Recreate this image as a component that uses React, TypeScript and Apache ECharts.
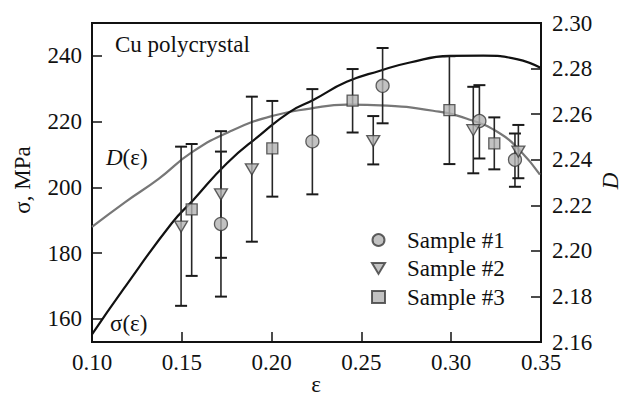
import React, { useEffect, useRef } from "react";
import * as echarts from "echarts";

// ---- data ----
const xTicks = [0.1, 0.15, 0.2, 0.25, 0.3, 0.35];
const sigmaTicks = [160, 180, 200, 220, 240];

// fitted sigma(eps) curve (left axis)
const sigmaCurveEps = [0.1, 0.1174, 0.1444, 0.1564, 0.175, 0.1935, 0.2102, 0.2232, 0.2418, 0.2604, 0.277, 0.2993, 0.3179, 0.3365, 0.35];
const sigmaCurveVal = [155.3, 169.0, 189.1, 196.2, 207.3, 215.9, 223.0, 226.6, 232.1, 235.5, 238.0, 240.0, 240.1, 239.0, 236.3];

// fitted D(eps) curve (right axis)
const dCurveEps = [0.1, 0.1185, 0.1371, 0.1557, 0.178, 0.2008, 0.2214, 0.2418, 0.2643, 0.2899, 0.3088, 0.3272, 0.3383, 0.3494];
const dCurveVal = [2.2105, 2.2214, 2.2316, 2.2433, 2.2528, 2.2593, 2.2624, 2.2642, 2.2637, 2.2615, 2.258, 2.2515, 2.244, 2.2335];

// samples: eps, sigma, lower error, upper error
const s1Eps = [0.1718, 0.2227, 0.2618, 0.3157, 0.3355];
const s1Sig = [188.9, 214.0, 230.9, 220.2, 208.4];
const s1Low = [166.8, 197.9, 219.5, 208.8, 200.2];
const s1High = [210.9, 229.9, 242.4, 231.1, 216.4];

const s2Eps = [0.1496, 0.1718, 0.189, 0.2566, 0.3123, 0.3374];
const s2Sig = [188.1, 197.9, 205.5, 214.1, 217.4, 210.9];
const s2Low = [164.0, 178.6, 183.5, 207.0, 204.3, 202.8];
const s2High = [212.4, 217.1, 227.6, 221.7, 230.6, 219.0];

const s3Eps = [0.1555, 0.2004, 0.2451, 0.299, 0.324];
const s3Sig = [193.3, 211.9, 226.4, 223.5, 213.4];
const s3Low = [173.1, 197.2, 216.7, 207.1, 205.5];
const s3High = [213.2, 226.3, 236.0, 239.9, 221.3];

const sampleNames = ["Sample #1", "Sample #2", "Sample #3"];

const FONT = "'Liberation Serif', 'DejaVu Serif', serif";
const FS = 23;
const MARK_FILL = "#b3b3b3";
const MARK_STROKE = "#3a3a3a";
const DOWN_TRI = "path://M0,0 L12,0 L6,10 Z";

function zip2(a: number[], b: number[]) {
  return a.map((v, i) => [v, b[i]]);
}
function zip3(a: number[], b: number[], c: number[]) {
  return a.map((v, i) => [v, b[i], c[i]]);
}

function errRender(params: any, api: any) {
  const x = api.value(0);
  const lo = api.coord([x, api.value(1)]);
  const hi = api.coord([x, api.value(2)]);
  const cap = 6;
  const style = { stroke: "#262626", lineWidth: 1.6 };
  const capStyle = { stroke: "#1a1a1a", lineWidth: 2 };
  return {
    type: "group",
    children: [
      { type: "line", shape: { x1: lo[0], y1: lo[1], x2: hi[0], y2: hi[1] }, style },
      { type: "line", shape: { x1: lo[0] - cap, y1: lo[1], x2: lo[0] + cap, y2: lo[1] }, style: capStyle },
      { type: "line", shape: { x1: hi[0] - cap, y1: hi[1], x2: hi[0] + cap, y2: hi[1] }, style: capStyle },
    ],
  };
}

export default function App() {
  const ref = useRef<HTMLDivElement>(null);
  useEffect(() => {
    if (!ref.current) return;
    const chart = echarts.init(ref.current, undefined, { renderer: "svg" });
    const axisLine = { show: true, lineStyle: { color: "#111", width: 2 } };
    const axisTick = { show: true, inside: true, length: 10, lineStyle: { color: "#111", width: 1.5 } };
    const labelStyle = { color: "#111", fontFamily: FONT, fontSize: FS };
    const markerStyle = { color: MARK_FILL, borderColor: MARK_STROKE, borderWidth: 1.3 };

    chart.setOption({
      animation: false,
      backgroundColor: "#fff",
      textStyle: { fontFamily: FONT },
      grid: { left: 92, right: 83, top: 23, bottom: 55, show: true, borderColor: "#111", borderWidth: 2 },
      xAxis: {
        type: "value",
        min: 0.1,
        max: 0.35,
        interval: 0.05,
        axisLine,
        axisTick,
        splitLine: { show: false },
        axisLabel: { ...labelStyle, margin: 9, formatter: (v: number) => v.toFixed(2), customValues: xTicks },
      },
      yAxis: [
        {
          type: "value",
          min: 153,
          max: 250,
          axisLine,
          axisTick: { ...axisTick, customValues: sigmaTicks },
          splitLine: { show: false },
          axisLabel: { ...labelStyle, margin: 10, customValues: sigmaTicks },
        },
        {
          type: "value",
          position: "right",
          min: 2.16,
          max: 2.3,
          interval: 0.02,
          axisLine,
          axisTick,
          splitLine: { show: false },
          axisLabel: { ...labelStyle, margin: 11, formatter: (v: number) => v.toFixed(2) },
        },
      ],
      legend: {
        orient: "vertical",
        left: 366,
        top: 223,
        itemWidth: 13,
        itemHeight: 12,
        itemGap: 4.5,
        data: sampleNames,
        textStyle: { fontFamily: FONT, fontSize: FS, color: "#111", lineHeight: 24, padding: [0, 0, 0, 17] },
      },
      graphic: [
        { type: "text", left: 115, top: 33, style: { text: "Cu polycrystal", fontFamily: FONT, fontSize: FS, fill: "#111" } },
        {
          type: "text",
          left: 106,
          top: 146,
          style: {
            text: "{i|D}(ε)",
            fontFamily: FONT,
            fontSize: FS,
            fill: "#111",
            rich: { i: { fontStyle: "italic", fontFamily: FONT, fontSize: FS, fill: "#111" } },
          },
        },
        { type: "text", left: 110, top: 312, style: { text: "σ(ε)", fontFamily: FONT, fontSize: FS, fill: "#111" } },
        {
          type: "text",
          x: 22,
          y: 180,
          rotation: Math.PI / 2,
          style: { text: "σ, MPa", fontFamily: FONT, fontSize: FS, fill: "#111", align: "center", verticalAlign: "middle" },
        },
        {
          type: "text",
          x: 610,
          y: 181,
          rotation: Math.PI / 2,
          style: { text: "D", fontFamily: FONT, fontStyle: "italic", fontSize: FS, fill: "#111", align: "center", verticalAlign: "middle" },
        },
        {
          type: "text",
          x: 316,
          y: 384,
          style: { text: "ε", fontFamily: FONT, fontSize: FS, fill: "#111", align: "center", verticalAlign: "middle" },
        },
      ],
      series: [
        {
          name: "D(ε)",
          type: "line",
          yAxisIndex: 1,
          data: zip2(dCurveEps, dCurveVal),
          smooth: true,
          showSymbol: false,
          lineStyle: { color: "#777", width: 2.2 },
          z: 2,
        },
        {
          name: "σ(ε)",
          type: "line",
          yAxisIndex: 0,
          data: zip2(sigmaCurveEps, sigmaCurveVal),
          smooth: true,
          showSymbol: false,
          lineStyle: { color: "#111", width: 2.2 },
          z: 3,
        },
        { type: "custom", yAxisIndex: 0, renderItem: errRender, data: zip3(s1Eps, s1Low, s1High), z: 4 },
        { type: "custom", yAxisIndex: 0, renderItem: errRender, data: zip3(s2Eps, s2Low, s2High), z: 4 },
        { type: "custom", yAxisIndex: 0, renderItem: errRender, data: zip3(s3Eps, s3Low, s3High), z: 4 },
        {
          name: sampleNames[0],
          type: "scatter",
          data: zip2(s1Eps, s1Sig),
          symbol: "circle",
          symbolSize: 13,
          itemStyle: markerStyle,
          z: 5,
        },
        {
          name: sampleNames[1],
          type: "scatter",
          data: zip2(s2Eps, s2Sig),
          symbol: DOWN_TRI,
          symbolSize: [13, 11],
          itemStyle: markerStyle,
          z: 5,
        },
        {
          name: sampleNames[2],
          type: "scatter",
          data: zip2(s3Eps, s3Sig),
          symbol: "rect",
          symbolSize: [11, 11],
          itemStyle: markerStyle,
          z: 5,
        },
      ],
    });
    return () => chart.dispose();
  }, []);
  return <div ref={ref} style={{ position: "fixed", left: 0, top: 0, width: 624, height: 397 }} />;
}
